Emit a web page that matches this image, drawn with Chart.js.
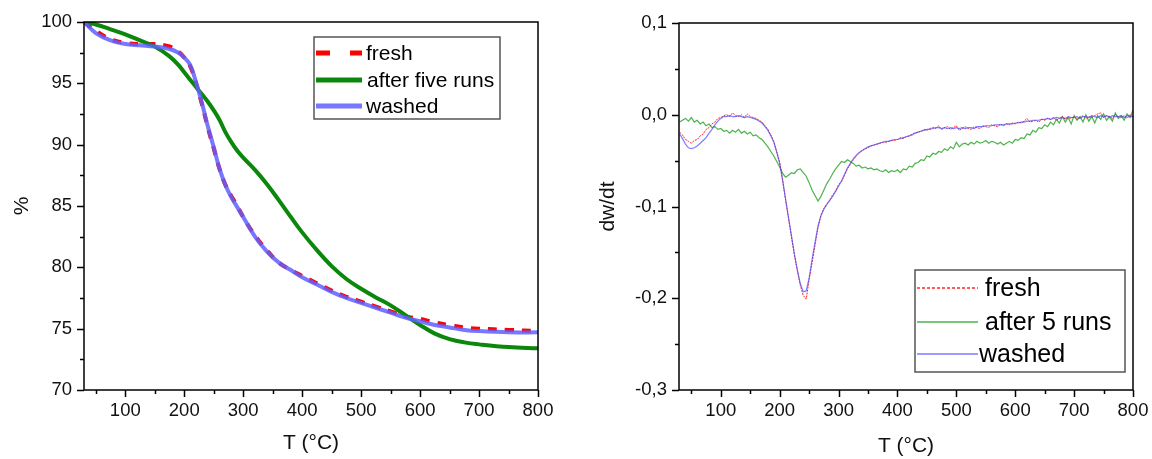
<!DOCTYPE html>
<html>
<head>
<meta charset="utf-8">
<script src="https://cdn.jsdelivr.net/npm/chart.js@4.4.1/dist/chart.umd.min.js"></script>
<style>
  html, body { margin: 0; padding: 0; background: #fff; }
  #wrap { position: relative; width: 1152px; height: 459px; }
  canvas { position: absolute; top: 0; }
  #tga { left: 0; }
  #dtg { left: 576px; }
</style>
</head>
<body>
<div id="wrap">
  <canvas id="tga" width="576" height="459"></canvas>
  <canvas id="dtg" width="576" height="459"></canvas>
</div>
<script>
// ---- left panel: TGA (%)
const tgaT = [30, 50, 75, 100, 125, 150, 175, 190, 200, 210, 220, 230, 240, 250, 260, 270, 280, 290, 300,
  320, 340, 360, 380, 400, 425, 450, 475, 500, 525, 550, 575, 600, 625, 650, 675, 700, 750, 800];
const tgaFresh = [100, 99.3, 98.6, 98.3, 98.2, 98.2, 98.0, 97.6, 97.1, 96.4, 95.0, 93.3, 91.4, 89.7, 88.0, 86.7,
  85.8, 85.0, 84.1, 82.6, 81.4, 80.4, 79.8, 79.3, 78.7, 78.1, 77.6, 77.2, 76.8, 76.4, 76.0, 75.8, 75.5, 75.3,
  75.1, 75.0, 74.9, 74.8];
const tgaAfter = [100, 99.8, 99.4, 99.0, 98.5, 98.0, 97.2, 96.5, 95.9, 95.3, 94.7, 94.1, 93.5, 92.8, 92.0, 91.0,
  90.2, 89.5, 88.95, 87.95, 86.8, 85.5, 84.15, 82.85, 81.4, 80.1, 79.05, 78.25, 77.55, 76.9, 76.1, 75.3, 74.6, 74.15,
  73.88, 73.72, 73.5, 73.4];
const tgaWashed = [100, 99.1, 98.5, 98.2, 98.1, 98.0, 97.8, 97.5, 97.1, 96.5, 95.1, 93.4, 91.5, 89.8, 88.0, 86.7,
  85.7, 84.9, 84.1, 82.5, 81.3, 80.4, 79.8, 79.2, 78.6, 78.0, 77.5, 77.1, 76.7, 76.3, 75.9, 75.6, 75.3, 75.1,
  74.9, 74.8, 74.7, 74.7];
const tgaXTicks = [50, 100, 150, 200, 250, 300, 350, 400, 450, 500, 550, 600, 650, 700, 750, 800];
const tgaYTicks = [70, 72.5, 75, 77.5, 80, 82.5, 85, 87.5, 90, 92.5, 95, 97.5, 100];

// ---- right panel: DTG (dw/dt), every 5 °C
const dtgT = [
  30, 35, 40, 45, 50, 55, 60, 65, 70, 75, 80, 85, 90, 95, 100, 105, 110, 115, 120, 125,
  130, 135, 140, 145, 150, 155, 160, 165, 170, 175, 180, 185, 190, 195, 200, 205, 210, 215, 220, 225,
  230, 235, 240, 245, 250, 255, 260, 265, 270, 275, 280, 285, 290, 295, 300, 305, 310, 315, 320, 325,
  330, 335, 340, 345, 350, 355, 360, 365, 370, 375, 380, 385, 390, 395, 400, 405, 410, 415, 420, 425,
  430, 435, 440, 445, 450, 455, 460, 465, 470, 475, 480, 485, 490, 495, 500, 505, 510, 515, 520, 525,
  530, 535, 540, 545, 550, 555, 560, 565, 570, 575, 580, 585, 590, 595, 600, 605, 610, 615, 620, 625,
  630, 635, 640, 645, 650, 655, 660, 665, 670, 675, 680, 685, 690, 695, 700, 705, 710, 715, 720, 725,
  730, 735, 740, 745, 750, 755, 760, 765, 770, 775, 780, 785, 790, 795, 800];
const dtgFresh = [
  -0.019, -0.022, -0.027, -0.029, -0.031, -0.028, -0.027, -0.023, -0.021, -0.016, -0.014, -0.010, -0.008, -0.004, -0.003, -0.001, 0.000, -0.002, 0.002, -0.001,
  -0.002, 0.000, -0.003, 0.001, -0.002, -0.003, -0.004, -0.006, -0.008, -0.012, -0.016, -0.022, -0.029, -0.040, -0.052, -0.072, -0.093, -0.113, -0.133, -0.153,
  -0.170, -0.186, -0.197, -0.201, -0.180, -0.161, -0.142, -0.124, -0.110, -0.102, -0.097, -0.094, -0.087, -0.084, -0.076, -0.073, -0.066, -0.059, -0.054, -0.049,
  -0.045, -0.042, -0.039, -0.037, -0.036, -0.034, -0.033, -0.032, -0.031, -0.030, -0.030, -0.029, -0.028, -0.028, -0.027, -0.025, -0.026, -0.024, -0.023, -0.021,
  -0.020, -0.019, -0.018, -0.016, -0.017, -0.015, -0.014, -0.015, -0.012, -0.016, -0.014, -0.013, -0.016, -0.014, -0.012, -0.017, -0.015, -0.013, -0.015, -0.016,
  -0.013, -0.014, -0.015, -0.012, -0.013, -0.014, -0.011, -0.012, -0.013, -0.010, -0.012, -0.010, -0.011, -0.009, -0.010, -0.008, -0.009, -0.007, -0.004, -0.008,
  -0.007, -0.006, -0.008, -0.005, -0.006, -0.004, -0.005, -0.003, -0.006, -0.004, -0.002, -0.005, -0.003, -0.004, -0.002, -0.005, -0.003, -0.001, -0.004, -0.002,
  -0.003, -0.001, 0.001, 0.002, -0.003, -0.001, -0.002, -0.004, 0.000, -0.002, -0.003, -0.001, -0.004, 0.000, -0.002];
const dtgAfter = [
  -0.008, -0.006, -0.004, -0.007, -0.003, -0.008, -0.006, -0.010, -0.008, -0.012, -0.010, -0.014, -0.013, -0.016, -0.015, -0.018, -0.017, -0.020, -0.017, -0.019,
  -0.016, -0.020, -0.018, -0.021, -0.019, -0.023, -0.022, -0.025, -0.027, -0.031, -0.035, -0.040, -0.045, -0.051, -0.057, -0.064, -0.068, -0.066, -0.063, -0.064,
  -0.060, -0.059, -0.063, -0.067, -0.074, -0.082, -0.088, -0.094, -0.089, -0.082, -0.075, -0.070, -0.064, -0.059, -0.055, -0.051, -0.052, -0.049, -0.051, -0.053,
  -0.056, -0.055, -0.058, -0.057, -0.059, -0.058, -0.060, -0.059, -0.061, -0.062, -0.060, -0.063, -0.061, -0.062, -0.060, -0.063, -0.059, -0.060, -0.056, -0.057,
  -0.053, -0.052, -0.049, -0.050, -0.045, -0.046, -0.042, -0.043, -0.040, -0.041, -0.037, -0.039, -0.035, -0.037, -0.030, -0.035, -0.032, -0.031, -0.033, -0.030,
  -0.032, -0.029, -0.031, -0.030, -0.028, -0.031, -0.029, -0.030, -0.032, -0.030, -0.033, -0.031, -0.029, -0.031, -0.027, -0.028, -0.025, -0.026, -0.021, -0.022,
  -0.017, -0.019, -0.014, -0.015, -0.011, -0.013, -0.008, -0.011, -0.005, -0.009, -0.002, -0.008, -0.003, -0.010, -0.001, -0.006, -0.002, -0.008, 0.000, -0.007,
  -0.002, -0.009, -0.001, -0.005, 0.001, -0.006, -0.002, -0.007, 0.002, -0.004, -0.001, -0.006, 0.001, -0.003, 0.005];
const dtgWashed = [
  -0.021, -0.026, -0.032, -0.036, -0.037, -0.036, -0.034, -0.031, -0.028, -0.025, -0.020, -0.016, -0.011, -0.007, -0.004, -0.002, -0.002, -0.001, -0.002, -0.002,
  -0.001, -0.002, -0.003, -0.002, -0.003, -0.004, -0.005, -0.007, -0.009, -0.013, -0.017, -0.023, -0.030, -0.041, -0.053, -0.071, -0.092, -0.112, -0.132, -0.152,
  -0.169, -0.184, -0.193, -0.192, -0.178, -0.158, -0.139, -0.121, -0.110, -0.103, -0.098, -0.093, -0.089, -0.083, -0.078, -0.072, -0.065, -0.058, -0.053, -0.048,
  -0.044, -0.041, -0.039, -0.037, -0.035, -0.034, -0.033, -0.032, -0.031, -0.030, -0.029, -0.029, -0.028, -0.027, -0.027, -0.026, -0.025, -0.024, -0.023, -0.022,
  -0.020, -0.019, -0.018, -0.017, -0.016, -0.016, -0.015, -0.014, -0.014, -0.015, -0.014, -0.015, -0.014, -0.015, -0.014, -0.015, -0.014, -0.015, -0.014, -0.014,
  -0.015, -0.013, -0.013, -0.013, -0.012, -0.012, -0.012, -0.011, -0.011, -0.011, -0.011, -0.010, -0.010, -0.010, -0.009, -0.009, -0.008, -0.008, -0.007, -0.007,
  -0.006, -0.006, -0.006, -0.005, -0.005, -0.004, -0.005, -0.004, -0.003, -0.004, -0.003, -0.004, -0.002, -0.003, -0.003, -0.002, -0.004, -0.002, -0.002, -0.003,
  -0.001, -0.002, -0.003, -0.001, -0.002, -0.001, -0.003, -0.001, -0.002, -0.002, -0.001, -0.003, -0.001, -0.002, -0.002];
const dtgXTicks = [50, 100, 150, 200, 250, 300, 350, 400, 450, 500, 550, 600, 650, 700, 750, 800];
const dtgYTicks = [-0.3, -0.25, -0.2, -0.15, -0.1, -0.05, 0, 0.05, 0.1];

const FONT = "'Liberation Sans', Arial, sans-serif";
const pts = (xs, ys) => xs.map((x, i) => ({ x, y: ys[i] }));

// box frame, short outward ticks (major 7px, minor 4px) and the boxed legend
const frameLegend = {
  id: 'frameLegend',
  afterDraw(chart, args, o) {
    const { ctx, chartArea: a, scales } = chart;
    ctx.save();
    ctx.strokeStyle = '#000';
    ctx.lineWidth = 1.5;
    ctx.setLineDash([]);
    ctx.strokeRect(a.left, a.top, a.right - a.left, a.bottom - a.top);
    ctx.beginPath();
    scales.x.ticks.forEach(t => {
      const p = Math.round(scales.x.getPixelForValue(t.value)) + 0.5;
      ctx.moveTo(p, a.bottom);
      ctx.lineTo(p, a.bottom + (t.label ? 7 : 4));
    });
    scales.y.ticks.forEach(t => {
      const p = Math.round(scales.y.getPixelForValue(t.value)) + 0.5;
      ctx.moveTo(a.left, p);
      ctx.lineTo(a.left - (t.label ? 7 : 4), p);
    });
    ctx.stroke();

    // legend box
    const bx = a.left + o.box[0], by = a.top + o.box[1];
    ctx.fillStyle = '#fff';
    ctx.fillRect(bx, by, o.box[2], o.box[3]);
    ctx.strokeStyle = '#555';
    ctx.lineWidth = 1.5;
    ctx.strokeRect(bx, by, o.box[2], o.box[3]);
    ctx.font = o.fontSize + 'px ' + FONT;
    ctx.textBaseline = 'middle';
    chart.data.datasets.forEach((ds, i) => {
      const y = a.top + o.rows[i];
      ctx.beginPath();
      ctx.strokeStyle = ds.borderColor;
      ctx.lineWidth = o.sampleWidth;
      ctx.setLineDash(ds.borderDash ? o.sampleDash : []);
      ctx.moveTo(a.left + o.sample[0], y);
      ctx.lineTo(a.left + o.sample[1], y);
      ctx.stroke();
      ctx.setLineDash([]);
      ctx.fillStyle = '#000';
      ctx.fillText(ds.label, a.left + o.textX[i], y + 1);
    });
    ctx.restore();
  }
};

function axes(xTicks, yTicks, xMin, yMin, yMax, yLabel, yWidth, yTitle, xTitlePad) {
  return {
    x: {
      type: 'linear', min: xMin, max: 800,
      afterBuildTicks: s => { s.ticks = xTicks.map(v => ({ value: v })); },
      afterFit: s => { s.height = 69; },
      grid: { display: false, drawTicks: true, tickLength: 7 },
      border: { display: false },
      ticks: {
        padding: 3, color: '#111', font: { family: FONT, size: 18.5 }, maxRotation: 0, autoSkip: false,
        callback: v => (v % 100 === 0 ? String(v) : '')
      },
      title: { display: true, text: 'T (°C)', color: '#111', font: { family: FONT, size: 21 },
        padding: { top: 0, bottom: xTitlePad } }
    },
    y: {
      min: yMin, max: yMax,
      afterBuildTicks: s => { s.ticks = yTicks.map(v => ({ value: v })); },
      afterFit: s => { s.width = yWidth; },
      grid: { display: false, drawTicks: true, tickLength: 7 },
      border: { display: false },
      ticks: { padding: 5, color: '#111', font: { family: FONT, size: 18.5 }, autoSkip: false, callback: yLabel },
      title: { display: true, text: yTitle.text, color: '#111', font: { family: FONT, size: 21 },
        padding: { top: yTitle.pad, bottom: 0 } }
    }
  };
}

Chart.defaults.animation = false;

new Chart(document.getElementById('tga'), {
  type: 'line',
  data: {
    datasets: [
      { label: 'fresh', data: pts(tgaT, tgaFresh), borderColor: '#ff0000', borderWidth: 4,
        borderDash: [9, 8], order: 2 },
      { label: 'after five runs', data: pts(tgaT, tgaAfter), borderColor: '#0b870b', borderWidth: 4, order: 1 },
      { label: 'washed', data: pts(tgaT, tgaWashed), borderColor: 'rgba(95,95,255,0.85)', borderWidth: 4, order: 0 }
    ]
  },
  options: {
    responsive: false,
    layout: { padding: { left: 0, top: 22, right: 38, bottom: 0 } },
    elements: { point: { radius: 0 }, line: { tension: 0.4 } },
    scales: axes(tgaXTicks, tgaYTicks, 30, 70, 100,
      v => (Math.round(v * 10) % 50 === 0 ? String(v) : ''), 84, { text: '%', pad: 10 }, 3),
    plugins: {
      legend: { display: false },
      tooltip: { enabled: false },
      frameLegend: { box: [230, 15, 186, 82], rows: [31, 58, 84], sample: [232, 278], textX: [282, 283, 282],
        fontSize: 21, sampleWidth: 5, sampleDash: [14, 20] }
    }
  },
  plugins: [frameLegend]
});

new Chart(document.getElementById('dtg'), {
  type: 'line',
  data: {
    datasets: [
      { label: 'fresh', data: pts(dtgT, dtgFresh), borderColor: 'rgba(255,0,0,0.85)', borderWidth: 1,
        borderDash: [2, 1], order: 1 },
      { label: 'after 5 runs', data: pts(dtgT, dtgAfter), borderColor: 'rgba(0,145,0,0.7)', borderWidth: 1.2, order: 2 },
      { label: 'washed', data: pts(dtgT, dtgWashed), borderColor: 'rgba(70,70,255,0.7)', borderWidth: 1.2, order: 0 }
    ]
  },
  options: {
    responsive: false,
    layout: { padding: { left: 0, top: 23, right: 19, bottom: 0 } },
    elements: { point: { radius: 0 }, line: { tension: 0 } },
    scales: axes(dtgXTicks, dtgYTicks, 29, -0.3, 0.1,
      v => {
        const r = Math.round(v * 100);
        return r % 10 === 0 ? (r / 100).toFixed(1).replace('.', ',') : '';
      }, 103, { text: 'dw/dt', pad: 20 }, 0),
    plugins: {
      legend: { display: false },
      tooltip: { enabled: false },
      frameLegend: { box: [236, 247, 210, 102], rows: [265, 299, 331], sample: [238, 299], textX: [306, 306, 300],
        fontSize: 25, sampleWidth: 1.5, sampleDash: [3, 2] }
    }
  },
  plugins: [frameLegend]
});
</script>
</body>
</html>
